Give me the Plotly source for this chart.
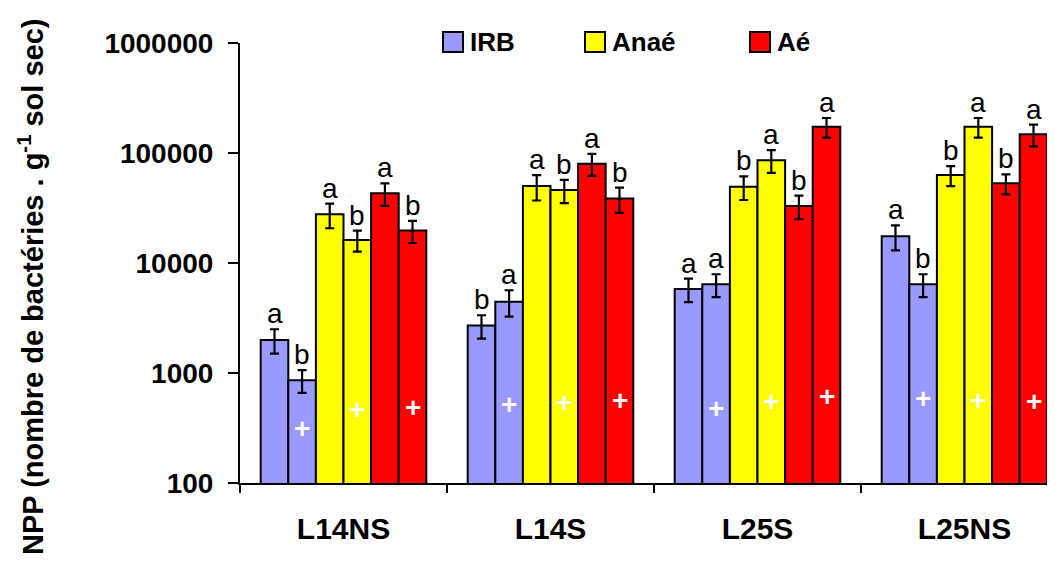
import math
import plotly.graph_objects as go

# ---------------- data ----------------
categories = ["L14NS", "L14S", "L25S", "L25NS"]

irb_1 = [2000, 2700, 5800, 17500]
irb_1_err = [500, 650, 1400, 4500]
irb_2 = [860, 4450, 6400, 6400]
irb_2_err = [200, 1200, 1500, 1500]

anae_1 = [27700, 50000, 49400, 63000]
anae_1_err = [7000, 13000, 12000, 13000]
anae_2 = [16200, 46000, 86000, 173000]
anae_2_err = [3500, 11000, 20000, 35000]

ae_1 = [43000, 80000, 33000, 53000]
ae_1_err = [10000, 18000, 8000, 11000]
ae_2 = [19700, 38500, 173000, 148000]
ae_2_err = [4500, 10000, 35000, 33000]

letters_irb_1 = ["a", "b", "a", "a"]
letters_irb_2 = ["b", "a", "a", "b"]
letters_anae_1 = ["a", "a", "b", "b"]
letters_anae_2 = ["b", "b", "a", "a"]
letters_ae_1 = ["a", "a", "b", "b"]
letters_ae_2 = ["b", "b", "a", "a"]

# white "+" marks inside the second bar of each pair (value where drawn)
plus_irb_2 = [316, 512, 477, 589]
plus_anae_2 = [470, 537, 548, 568]
plus_ae_2 = [490, 568, 617, 548]

legend_names = ["IRB", "Anaé", "Aé"]
y_tick_values = [100, 1000, 10000, 100000, 1000000]
y_tick_labels = ["100", "1000", "10000", "100000", "1000000"]
y_title = "NPP (nombre de bactéries . g<sup>-1</sup> sol sec)"

# ---------------- style ----------------
FONT = "Liberation Sans, Arial, sans-serif"
C_IRB = "#9999FF"
C_ANAE = "#FFFF00"
C_AE = "#FF0000"

series = [
    (irb_1, irb_1_err, C_IRB, letters_irb_1, None),
    (irb_2, irb_2_err, C_IRB, letters_irb_2, plus_irb_2),
    (anae_1, anae_1_err, C_ANAE, letters_anae_1, None),
    (anae_2, anae_2_err, C_ANAE, letters_anae_2, plus_anae_2),
    (ae_1, ae_1_err, C_AE, letters_ae_1, None),
    (ae_2, ae_2_err, C_AE, letters_ae_2, plus_ae_2),
]

BARGAP = 0.2
n_series = len(series)
bw = (1 - BARGAP) / n_series

fig = go.Figure()
annotations = []
for j, (vals, errs, col, letters, pluses) in enumerate(series):
    fig.add_trace(go.Bar(
        x=categories, y=vals,
        marker=dict(color=col, line=dict(color="black", width=2)),
        error_y=dict(type="data", array=errs, color="black", thickness=2.2, width=4.5),
        showlegend=False,
    ))
    for i, (v, e, lt) in enumerate(zip(vals, errs, letters)):
        xpos = i + (j - (n_series - 1) / 2) * bw
        annotations.append(dict(
            x=xpos, y=math.log10(v + e), xref="x", yref="y",
            text=lt, showarrow=False, yanchor="bottom", xanchor="center",
            font=dict(family=FONT, size=28, color="black"), yshift=-2,
        ))
        if pluses is not None:
            annotations.append(dict(
                x=xpos, y=math.log10(pluses[i]), xref="x", yref="y",
                text="<b>+</b>", showarrow=False, yanchor="middle", xanchor="center",
                font=dict(family=FONT, size=28, color="white"),
            ))

# page body has an 8px margin: positions below are in page pixels
OFF = 8
L, T = 240 - OFF, 43 - OFF
PW, PH = 815, 440
def px2x(px):
    return (px - OFF - L) / PW
def py2y(py):
    return (T + PH - (py - OFF)) / PH

legend_pos = [(443, C_IRB), (585, C_ANAE), (750, C_AE)]
shapes = []
for (lx, col), name in zip(legend_pos, legend_names):
    shapes.append(dict(type="rect", xref="paper", yref="paper",
                       x0=px2x(lx), x1=px2x(lx + 20), y0=py2y(52), y1=py2y(32),
                       fillcolor=col, line=dict(color="black", width=2)))
    annotations.append(dict(x=px2x(lx + 25), y=py2y(42), xref="paper", yref="paper",
                            text=f"<b>{name}</b>", showarrow=False,
                            xanchor="left", yanchor="middle",
                            font=dict(family=FONT, size=26, color="black")))

# y axis title
annotations.append(dict(x=px2x(31), y=py2y(287), xref="paper", yref="paper",
                        text=f"<b>{y_title}</b>", showarrow=False, textangle=-90,
                        xanchor="center", yanchor="middle",
                        font=dict(family=FONT, size=29, color="black")))

fig.update_layout(
    width=1055, height=565,
    margin=dict(l=L, r=1055 - L - PW, t=T, b=565 - T - PH),
    barmode="group", bargap=BARGAP, bargroupgap=0,
    plot_bgcolor="white", paper_bgcolor="white",
    font=dict(family=FONT, color="black"),
    annotations=annotations, shapes=shapes,
    showlegend=False,
)
fig.update_xaxes(
    type="category", range=[-0.5, -0.5 + PW / 207.0],
    showline=True, linecolor="black", linewidth=2,
    ticks="outside", ticklen=8, tickwidth=2, tickcolor="black",
    tickson="boundaries", showgrid=False, zeroline=False,
    tickfont=dict(family=FONT, size=30, color="black", weight="bold"),
    ticklabelstandoff=18,
)
fig.update_yaxes(
    type="log", range=[2, 6],
    tickvals=y_tick_values, ticktext=y_tick_labels,
    showline=True, linecolor="black", linewidth=2,
    ticks="outside", ticklen=10, tickwidth=2, tickcolor="black",
    showgrid=False, zeroline=False,
    tickfont=dict(family=FONT, size=28, color="black", weight="bold"),
    ticklabelstandoff=9,
)

fig.write_html("out.html")
